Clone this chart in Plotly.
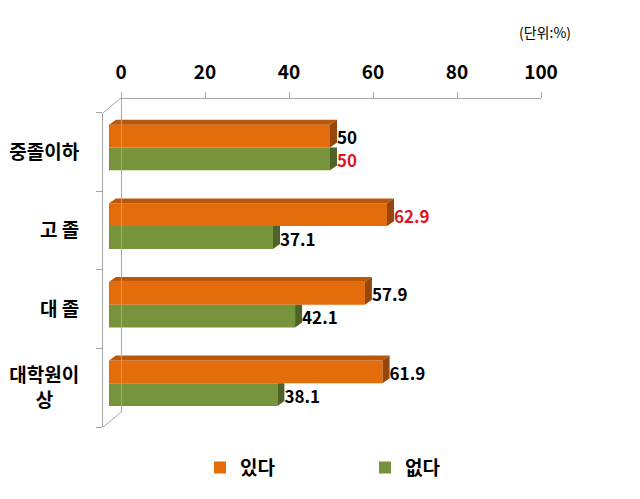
import plotly.graph_objects as go

categories = ["중졸이하", "고 졸", "대 졸", "대학원이<br>상" + "\u00a0" * 6]
series_names = ["있다", "없다"]
yes_values = [50, 62.9, 57.9, 61.9]
no_values = [50, 37.1, 42.1, 38.1]
yes_label_colors = ["#000000", "#E0141E", "#000000", "#000000"]
no_label_colors = ["#E0141E", "#000000", "#000000", "#000000"]
x_ticks = [0, 20, 40, 60, 80, 100]

ORANGE = "#E46C0A"
ORANGE_TOP = "#B9570A"
ORANGE_SIDE = "#98470C"
GREEN = "#77933C"
GREEN_SIDE = "#4F6228"
AXIS = "#A6A6A6"
FONT = "Noto Sans CJK KR"

W, H = 640, 499
ML, MR, MT, MB = 103, 89, 98, 69
PW, PH = W - ML - MR, H - MT - MB
ROW_TOP = 113  # px of the front wall top
ydom_top = (H - MB - ROW_TOP) / PH

n = len(categories)
pos = list(range(n))
xr0 = -6 / 4.42
DX = 7 / 4.42
DY = 0.063
OFF_Y, OFF_N, BW = -0.348, -0.058, 0.29

fig = go.Figure()
fig.add_trace(go.Bar(y=pos, x=yes_values, orientation="h", name=series_names[0],
                     marker=dict(color=ORANGE, line=dict(width=0)), offset=OFF_Y, width=BW,
                     hoverinfo="skip"))
fig.add_trace(go.Bar(y=pos, x=no_values, orientation="h", name=series_names[1],
                     marker=dict(color=GREEN, line=dict(width=0)), offset=OFF_N, width=BW,
                     hoverinfo="skip"))

# 3D faces derived from data values
gx, gy = [], []
for c, v in zip(pos, no_values):
    t, b = c + OFF_N, c + OFF_N + BW
    gx += [v, v, v + DX, v + DX, v, None]
    gy += [b, t, t, b - DY, b, None]
fig.add_trace(go.Scatter(x=gx, y=gy, mode="lines", fill="toself", fillcolor=GREEN_SIDE,
                         line=dict(width=0), showlegend=False, hoverinfo="skip"))
tx, ty, sx, sy = [], [], [], []
for c, v in zip(pos, yes_values):
    t, b = c + OFF_Y, c + OFF_Y + BW
    tx += [0, v, v + DX, DX, 0, None]
    ty += [t, t, t - DY, t - DY, t, None]
    sx += [v, v + DX, v + DX, v, v, None]
    sy += [t, t - DY, b - DY, b, t, None]
fig.add_trace(go.Scatter(x=tx, y=ty, mode="lines", fill="toself", fillcolor=ORANGE_TOP,
                         line=dict(width=0), showlegend=False, hoverinfo="skip"))
fig.add_trace(go.Scatter(x=sx, y=sy, mode="lines", fill="toself", fillcolor=ORANGE_SIDE,
                         line=dict(width=0), showlegend=False, hoverinfo="skip"))

# value labels
fig.add_trace(go.Scatter(x=[v + DX for v in yes_values], y=[c + OFF_Y + BW / 2 + 0.05 for c in pos],
                         mode="text", text=[f"{v:g}" for v in yes_values], textposition="middle right",
                         textfont=dict(family=FONT, size=17, color=yes_label_colors, weight="bold"),
                         showlegend=False, hoverinfo="skip"))
fig.add_trace(go.Scatter(x=[v + DX for v in no_values], y=[c + OFF_N + BW / 2 + 0.05 for c in pos],
                         mode="text", text=[f"{v:g}" for v in no_values], textposition="middle right",
                         textfont=dict(family=FONT, size=17, color=no_label_colors, weight="bold"),
                         showlegend=False, hoverinfo="skip"))

# invisible trace to create back-wall axes
fig.add_trace(go.Scatter(x=[0, 100], y=[0, 1], xaxis="x2", yaxis="y2", mode="markers",
                         marker=dict(opacity=0), showlegend=False, hoverinfo="skip"))

x2_l = (121 - ML) / PW
x2_r = (541 - ML) / PW
y2_b = (H - MB - 415) / PH

fig.update_layout(
    width=W, height=H, margin=dict(l=ML, r=MR, t=MT, b=MB),
    paper_bgcolor="white", plot_bgcolor="rgba(0,0,0,0)",
    barmode="overlay",
    font=dict(family=FONT, color="#000000"),
    xaxis=dict(range=[xr0, 100], visible=False, domain=[0, 1], automargin=False),
    yaxis=dict(range=[n - 0.5, -0.5], domain=[0, ydom_top], tickvals=pos, ticktext=categories,
               showline=True, linecolor=AXIS, linewidth=1, ticks="", showgrid=False, zeroline=False,
               ticklabelstandoff=19, automargin=False,
               tickfont=dict(family=FONT, size=19, color="#000000", weight="bold"),
               minor=dict(tickvals=[p - 0.5 for p in pos] + [n - 0.5], ticks="outside",
                          ticklen=6, tickcolor=AXIS, tickwidth=1, showgrid=False)),
    xaxis2=dict(range=[0, 100], domain=[x2_l, x2_r], anchor="free", position=1, side="top",
                tickvals=x_ticks, showline=True, linecolor=AXIS, linewidth=1, ticks="outside",
                ticklen=6, tickcolor=AXIS, showgrid=False, zeroline=False, ticklabelstandoff=5,
                automargin=False,
                tickfont=dict(family=FONT, size=19, color="#000000", weight="bold")),
    yaxis2=dict(range=[0, 1], domain=[y2_b, 1], anchor="free", position=x2_l, showline=True,
                linecolor=AXIS, linewidth=1, showticklabels=False, ticks="", showgrid=False,
                zeroline=False, automargin=False),
    legend=dict(orientation="h", x=(200 - ML) / PW, xanchor="left", y=-(471 - (H - MB)) / PH,
                yanchor="middle", font=dict(family=FONT, size=19, color="#000000", weight="bold"),
                entrywidth=120, traceorder="normal"),
    annotations=[dict(text="(단위:%)", xref="paper", yref="paper", x=(573 - ML) / PW, xanchor="right",
                      y=1 + (MT - 31) / PH, yanchor="middle", showarrow=False,
                      font=dict(family=FONT, size=14, color="#000000"))],
    shapes=[
        dict(type="line", xref="paper", yref="paper", x0=0, y0=ydom_top, x1=x2_l, y1=1,
             line=dict(color=AXIS, width=1)),
        dict(type="line", xref="paper", yref="paper", x0=0, y0=0, x1=x2_l, y1=y2_b,
             line=dict(color=AXIS, width=1)),
    ],
)

fig.write_html("out.html")
